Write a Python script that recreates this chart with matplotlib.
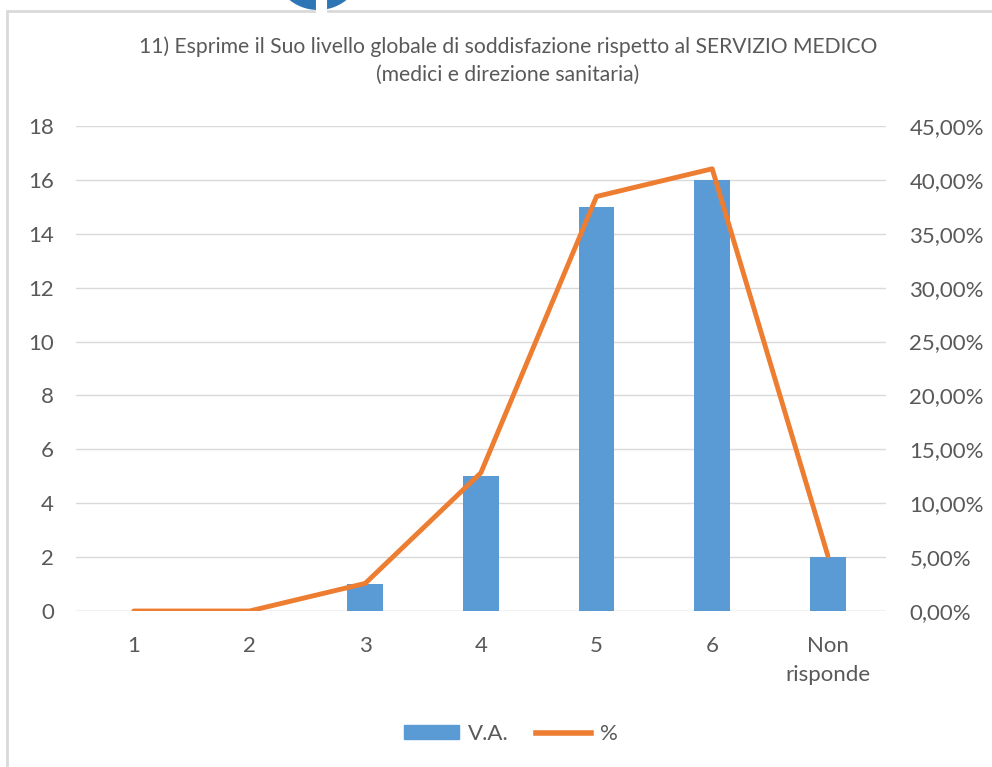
import numpy as np
import matplotlib.pyplot as plt
from matplotlib.patches import Rectangle, Ellipse
from matplotlib.lines import Line2D

categorie = ["1", "2", "3", "4", "5", "6", "Non\nrisponde"]
va = [0, 0, 1, 5, 15, 16, 2]
perc = [0.0, 0.0, 2.56, 12.82, 38.46, 41.03, 5.13]

W, H = 992, 767
grigio = "#595959"
blu = "#5b9bd5"
arancio = "#ed7d31"
plt.rcParams["font.family"] = ["Lato", "DejaVu Sans"]

fig = plt.figure(figsize=(W / 100, H / 100), dpi=100)

# cornice del grafico e logo tagliato in alto
fig.patches.append(Ellipse((318 / W, 1 + 35.6 / H), 2 * 45.6 / W, 2 * 45.6 / H,
                           transform=fig.transFigure, facecolor="#2e75b6", edgecolor="none"))
fig.lines.append(Line2D([321 / W, 321 / W], [1 - 12 / H, 1], transform=fig.transFigure,
                        color="white", linewidth=8))
fig.patches.append(Rectangle((7 / W, -0.1), 1.2, 1 - 11 / H + 0.1, transform=fig.transFigure,
                             fill=False, edgecolor="#d9d9d9", linewidth=2))

ax = fig.add_axes([76 / W, 1 - 611 / H, (885.7 - 76) / W, (611 - 126) / H])
ax2 = ax.twinx()

x = np.arange(len(categorie))
ax.bar(x, va, width=0.31, color=blu, zorder=2)
ax2.plot(x, perc, color=arancio, linewidth=3.5, solid_capstyle="round", solid_joinstyle="round")

ax.set_xlim(-0.5, len(categorie) - 0.5)
ax.set_ylim(0, 18)
ax.set_yticks(range(0, 19, 2))
ax2.set_ylim(0, 45)
ax2.set_yticks(range(0, 46, 5))
ax2.set_yticklabels([f"{v},00%" for v in range(0, 46, 5)])
ax.set_xticks(x)
ax.set_xticklabels(categorie, linespacing=1.55)

for a in (ax, ax2):
    for s in a.spines.values():
        s.set_visible(False)
    a.tick_params(length=0, labelsize=16, colors=grigio)
ax.tick_params(axis="y", pad=16)
ax.tick_params(axis="x", pad=18)
ax2.tick_params(axis="y", pad=17)
ax.grid(axis="y", color="#d9d9d9", linewidth=1, zorder=0)
ax.set_axisbelow(True)
ax.axhline(0, color="#d9d9d9", linewidth=1, zorder=1)

fig.text(508 / W, 1 - 47 / H, "11) Esprime il Suo livello globale di soddisfazione rispetto al SERVIZIO MEDICO",
         ha="center", va="center", fontsize=15.2, color=grigio)
fig.text(508 / W, 1 - 75 / H, "(medici e direzione sanitaria)",
         ha="center", va="center", fontsize=15.2, color=grigio)

handles = [Rectangle((0, 0), 1, 1, color=blu), Line2D([0], [0], color=arancio, linewidth=4)]
fig.legend(handles, ["V.A.", "%"], loc="center", bbox_to_anchor=(511 / W, 1 - 734 / H),
           ncol=2, frameon=False, fontsize=16, labelcolor=grigio, handlelength=2.5,
           handleheight=0.6, handletextpad=0.4, columnspacing=1.2)

plt.savefig("out.png", dpi=100)
